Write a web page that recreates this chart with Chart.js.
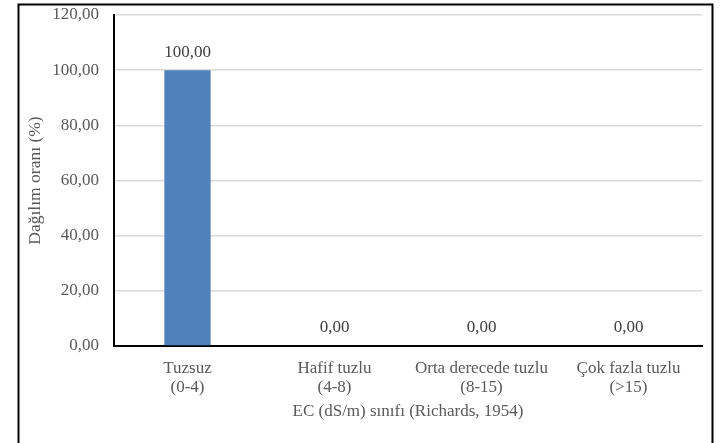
<!DOCTYPE html>
<html>
<head>
<meta charset="utf-8">
<script src="https://cdn.jsdelivr.net/npm/chart.js@4/dist/chart.umd.min.js"></script>
<style>
  html, body { margin: 0; padding: 0; background: #ffffff; }
  #wrap { width: 725px; height: 443px; position: relative; }
</style>
</head>
<body>
<div id="wrap"><canvas id="c" width="725" height="443"></canvas></div>
<script>
// EC classes (Richards, 1954) and share of samples in each class
const categories = [
  ['Tuzsuz', '(0-4)'],
  ['Hafif tuzlu', '(4-8)'],
  ['Orta derecede tuzlu', '(8-15)'],
  ['Çok fazla tuzlu', '(>15)']
];
const shares = [100.00, 0.00, 0.00, 0.00];
const yTicks = [0, 20, 40, 60, 80, 100, 120];

const FONT = "'Liberation Serif', 'Times New Roman', serif";
const fmt = v => v.toFixed(2).replace('.', ',');

// Outer frame around the whole figure
const framePlugin = {
  id: 'frame',
  beforeDraw(chart) {
    const ctx = chart.ctx;
    ctx.save();
    ctx.fillStyle = '#ffffff';
    ctx.fillRect(0, 0, chart.width, chart.height);
    ctx.strokeStyle = '#000000';
    ctx.lineWidth = 2;
    ctx.strokeRect(18.5, 4.5, 694, 460);
    ctx.restore();
  }
};

// Value labels above each bar
const valueLabels = {
  id: 'valueLabels',
  afterDatasetsDraw(chart) {
    const ctx = chart.ctx;
    ctx.save();
    ctx.font = '17px ' + FONT;
    ctx.fillStyle = '#404040';
    ctx.textAlign = 'center';
    ctx.textBaseline = 'middle';
    chart.getDatasetMeta(0).data.forEach((bar, i) => {
      ctx.fillText(fmt(shares[i]), bar.x, bar.y - 18);
    });
    ctx.restore();
  }
};

new Chart(document.getElementById('c'), {
  type: 'bar',
  data: {
    labels: categories,
    datasets: [{
      data: shares,
      backgroundColor: '#4F81BD',
      borderWidth: 0,
      barPercentage: 0.63,
      categoryPercentage: 0.5
    }]
  },
  options: {
    responsive: false,
    animation: false,
    events: [],
    layout: { padding: { top: 15, right: 23, left: 0, bottom: 0 } },
    plugins: { legend: { display: false }, tooltip: { enabled: false } },
    scales: {
      x: {
        grid: { display: false, drawTicks: false },
        border: { color: '#000000', width: 2 },
        ticks: {
          color: '#595959',
          font: { family: FONT, size: 17, lineHeight: 1.12 },
          padding: 13,
          maxRotation: 0,
          autoSkip: false
        },
        title: {
          display: true,
          text: 'EC (dS/m) sınıfı (Richards, 1954)',
          color: '#595959',
          font: { family: FONT, size: 17 },
          padding: { top: 0, bottom: 21 }
        },
        afterFit(scale) { scale.height = 97; }
      },
      y: {
        min: 0,
        max: 120,
        grid: { color: '#D9D9D9', lineWidth: 1.5, drawTicks: false },
        border: { color: '#000000', width: 2 },
        afterBuildTicks(scale) { scale.ticks = yTicks.map(v => ({ value: v })); },
        ticks: {
          color: '#595959',
          font: { family: FONT, size: 17 },
          padding: 15,
          callback: v => fmt(v)
        },
        title: {
          display: true,
          text: 'Dağılım oranı (%)',
          color: '#595959',
          font: { family: FONT, size: 17.5 },
          padding: { top: 25, bottom: 0 }
        },
        afterFit(scale) {
          scale.width = 114;
          scale.paddingTop = 0;
          scale.paddingBottom = 0;
        }
      }
    }
  },
  plugins: [framePlugin, valueLabels]
});
</script>
</body>
</html>
